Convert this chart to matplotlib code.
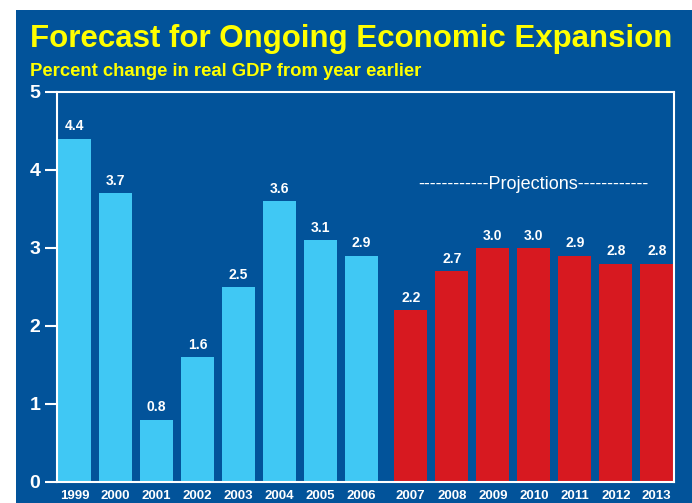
import matplotlib.pyplot as plt
from matplotlib.patches import Rectangle

# Data
years = ['1999', '2000', '2001', '2002', '2003', '2004', '2005', '2006',
         '2007', '2008', '2009', '2010', '2011', '2012', '2013']
gdp_growth = [4.4, 3.7, 0.8, 1.6, 2.5, 3.6, 3.1, 2.9,
              2.2, 2.7, 3.0, 3.0, 2.9, 2.8, 2.8]
n_actual = 8  # 1999-2006 actual, rest projected

bg_blue = '#02539a'
light_blue = '#40c8f4'
red = '#d71920'
yellow = '#ffff00'
font = ['Liberation Sans', 'DejaVu Sans']

fig = plt.figure(figsize=(6.92, 5.03), dpi=100, facecolor='white')
fig.patches.append(Rectangle((16 / 692, 0), 1 - 16 / 692, 1 - 10 / 503,
                             transform=fig.transFigure, facecolor=bg_blue,
                             edgecolor='none', zorder=-10))

ax = fig.add_axes([57 / 692, 1 - 482 / 503, (674 - 57) / 692, (482 - 92) / 503])
ax.set_facecolor(bg_blue)

# projected bars get a little extra gap
x = [i if i < n_actual else i + 0.2 for i in range(len(years))]
colors = [light_blue if i < n_actual else red for i in range(len(years))]
ax.bar(x, gdp_growth, width=0.8, color=colors, zorder=2)

for xi, v in zip(x, gdp_growth):
    ax.text(xi, v + 0.07, f'{v:.1f}', ha='center', va='bottom', color='white',
            fontsize=10, fontweight='bold', family=font)

# projections label over the red bars
proj_center = (x[n_actual] + x[-1]) / 2
ax.text(proj_center, 3.82, '------------Projections------------', ha='center',
        va='center', color='white', fontsize=13, family=font)

ax.set_xlim(-0.43, 14.62)
ax.set_ylim(0, 5)
ax.set_yticks([0, 1, 2, 3, 4, 5])
ax.set_xticks(x)
ax.set_xticklabels(years)
ax.tick_params(axis='y', colors='white', length=9, width=1.5, pad=3)
ax.tick_params(axis='x', length=0, pad=6)
for lbl in ax.get_yticklabels():
    lbl.set_fontsize(14)
    lbl.set_fontweight('bold')
    lbl.set_family(font)
for lbl in ax.get_xticklabels():
    lbl.set_fontsize(9.5)
    lbl.set_fontweight('bold')
    lbl.set_family(font)
    lbl.set_color('white')
for s in ax.spines.values():
    s.set_color('white')
    s.set_linewidth(1.5)

fig.text(30 / 692, 1 - 39 / 503, 'Forecast for Ongoing Economic Expansion',
         color=yellow, fontsize=22.5, fontweight='bold', family=font,
         va='center', ha='left')
fig.text(30 / 692, 1 - 72 / 503, 'Percent change in real GDP from year earlier',
         color=yellow, fontsize=13.3, fontweight='bold', family=font,
         va='center', ha='left')

fig.savefig('out.png', dpi=100, facecolor='white')
plt.close(fig)
